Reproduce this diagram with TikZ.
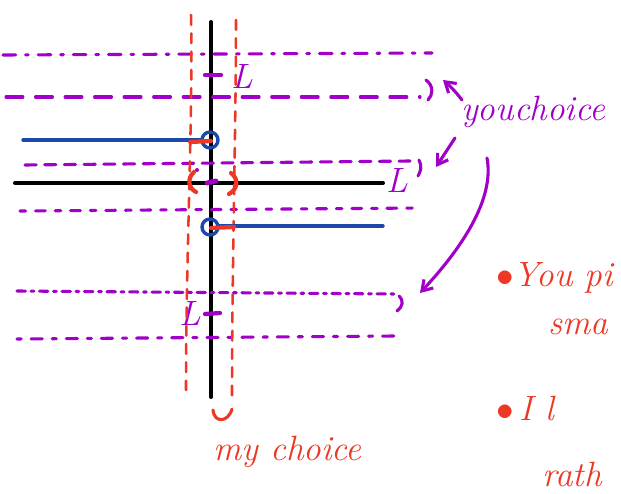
\documentclass[tikz,border=0pt]{standalone}
\usepackage{tikz}
\usetikzlibrary{arrows.meta, positioning}
\definecolor{inkpurple}{RGB}{160,0,200}
\definecolor{inkred}{RGB}{236,56,36}
\definecolor{inkblue}{RGB}{28,72,172}

\begin{document}
\begin{tikzpicture}[x=0.025cm, y=-0.025cm,
  axis/.style={line width=2.8pt, line cap=round},
  guide/.style={draw=inkpurple, line width=2.2pt, line cap=round, dash pattern={#1}},
  pen/.style={draw=#1, line width=2.2pt, line cap=round, line join=round},
  reddash/.style={draw=inkred, line width=1.8pt, line cap=round, dash pattern=on 7pt off 6pt},
  blueline/.style={draw=inkblue, line width=2.4pt, line cap=round},
  arr/.style={pen=inkpurple, -{Straight Barb[length=7pt, width=9pt]}},
  hand/.style={font=\fontsize{25}{28}\selectfont\itshape, text=#1, inner sep=0pt},
  bighand/.style={font=\fontsize{25}{28}\selectfont\itshape, text=inkred, inner sep=0pt, anchor=base west}
]
\useasboundingbox (0,0) rectangle (621,494);

% axes
\coordinate (xl) at (15,183);
\coordinate (xr) at (383,183);
\coordinate (yt) at (211,22);
\coordinate (yb) at (211,397);
\draw[axis] (xl) -- (xr);
\draw[axis] (yt) -- (yb);
\node[hand=inkpurple, anchor=west] (Lx) at (386,180) {L};
\draw[pen=inkpurple, line width=3pt] (205,75) -- (221,75);
\node[hand=inkpurple, anchor=west] (Ltop) at (231,76) {L};
\draw[pen=inkpurple, line width=3pt] (205,314) -- (220,313);
\node[hand=inkpurple, anchor=east] (Lbot) at (201,313) {L};
\draw[pen=inkpurple, line width=3.5pt] (207,183) -- (216,181);
\fill[inkpurple] (197,170) circle (2);

% your choices (purple guides)
\draw[guide={on 9pt off 7pt on 2pt off 7pt}] (3,55) -- (432,53);
\draw[guide={on 12pt off 9pt}] (6,97) -- (420,97);
\draw[pen=inkpurple] (426,80) .. controls (434,86) and (433,95) .. (428,100);
\draw[guide={on 8pt off 6pt}] (25,165) -- (410,161);
\draw[pen=inkpurple] (419,160) .. controls (422,166) and (421,171) .. (418,176);
\draw[guide={on 4pt off 7pt on 7pt off 7pt}] (20,211) -- (420,208);
\draw[guide={on 6pt off 4pt on 2pt off 4pt}] (17,291) -- (395,294);
\draw[pen=inkpurple] (399,296) .. controls (404,301) and (403,306) .. (397,311);
\draw[guide={on 3pt off 7pt on 8pt off 7pt}] (17,339) -- (395,336);

% my choice (red strip)
\draw[reddash] (191,15) .. controls (193,120) and (186,250) .. (186,390);
\draw[reddash] (236,20) .. controls (236,130) and (232,260) .. (232,396);
\draw[pen=inkred, line width=3pt] (194,172) .. controls (187,178) and (188,188) .. (196,192);
\draw[pen=inkred, line width=3pt] (231,173) .. controls (239,179) and (238,189) .. (229,194);
\draw[pen=inkred] (213,410) .. controls (214,423) and (228,423) .. (232,409);

% blue segments
\draw[blueline] (23,140) -- (202,140);
\draw[blueline] (210,140) circle (8);
\draw[blueline] (210,227) circle (8);
\draw[blueline] (218,226) -- (383,226);
\draw[pen=inkred, line width=3pt] (190,142) -- (211,141);
\draw[pen=inkred, line width=3pt] (211,228) -- (234,227);

% labels
\node[hand=inkpurple, anchor=west] (you) at (461,112) {youchoice};
\node[hand=inkred, anchor=west] (my) at (213,452) {my choice};
\coordinate (topmark) at (443,80);
\coordinate (midmark) at (436,167);
\coordinate (lowmark) at (420,293);
\draw[arr] (462,100) .. controls (456,92) and (450,86) .. (topmark);
\draw[arr] (455,138) -- (midmark);
\draw[arr] (487,158) .. controls (495,200) and (460,250) .. (lowmark);

% notes
\node[bighand] (note1) at (496,286) {$\bullet$You pi};
\node[bighand] (note1b) at (548,334) {sma};
\node[bighand] (note2) at (496,420) {$\bullet$\,I l};
\node[bighand] (note2b) at (542,486) {rath};
\end{tikzpicture}
\end{document}
